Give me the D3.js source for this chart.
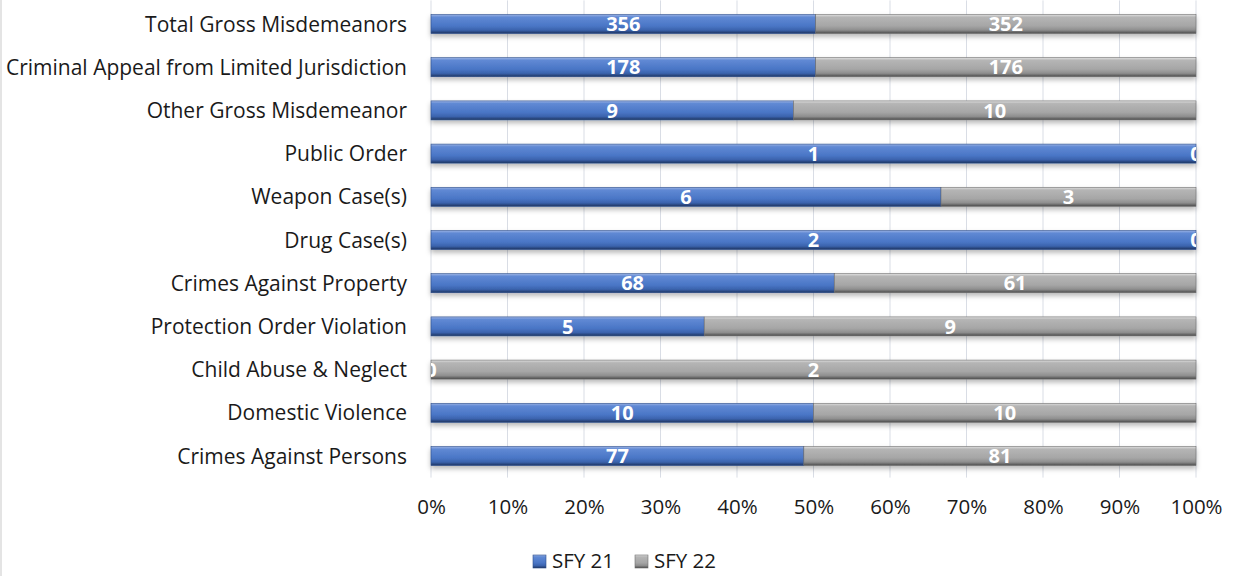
<!DOCTYPE html>
<html><head><meta charset="utf-8">
<script src="https://cdn.jsdelivr.net/npm/d3@7"></script>
<style>
html,body{margin:0;padding:0;background:#fff;}
svg{display:block;font-family:"Open Sans",sans-serif;}
</style></head>
<body>
<svg id="chart" width="1233" height="576"></svg>
<script>
const categories = ["Total Gross Misdemeanors","Criminal Appeal from Limited Jurisdiction","Other Gross Misdemeanor","Public Order","Weapon Case(s)","Drug Case(s)","Crimes Against Property","Protection Order Violation","Child Abuse & Neglect","Domestic Violence","Crimes Against Persons"];
const sfy21 = [356,178,9,1,6,2,68,5,0,10,77];
const sfy22 = [352,176,10,0,3,0,61,9,2,10,81];
const seriesNames = ["SFY 21","SFY 22"];
const tickValues = [0,0.1,0.2,0.3,0.4,0.5,0.6,0.7,0.8,0.9,1];

const svg = d3.select("#chart");
const W = 1233, H = 576;
const m = {left:431, right:1196, top:2.4, bottom:477.6};
const FONT = "'Open Sans',sans-serif";

const x = d3.scaleLinear().domain([0,1]).range([m.left, m.right]);
const y = d3.scaleBand().domain(categories).range([m.top, m.bottom]).paddingInner(0.56).paddingOuter(0.28);

const defs = svg.append("defs");
function grad(id, stops){
  const g = defs.append("linearGradient").attr("id",id).attr("x1",0).attr("y1",0).attr("x2",0).attr("y2",1);
  stops.forEach(s=>g.append("stop").attr("offset",s[0]).attr("stop-color",s[1]));
}
grad("gBlue",[["0%","#9bb3e4"],["14%","#6089d4"],["60%","#4a76c6"],["82%","#3b63ad"],["100%","#1e3460"]]);
grad("gGrey",[["0%","#e0e0e0"],["14%","#b5b5b5"],["60%","#a6a6a6"],["82%","#8e8e8e"],["100%","#4a4a4a"]]);
const f = defs.append("filter").attr("id","shadow").attr("x","-5%").attr("y","-50%").attr("width","110%").attr("height","250%");
f.append("feDropShadow").attr("dx",0).attr("dy",3).attr("stdDeviation",2.5).attr("flood-color","#000").attr("flood-opacity",0.28);
defs.append("clipPath").attr("id","plotClip").append("rect").attr("x",m.left).attr("y",0).attr("width",m.right-m.left).attr("height",H);

// left border line
svg.append("line").attr("x1",1).attr("x2",1).attr("y1",0).attr("y2",H).attr("stroke","#e4e4e4").attr("stroke-width",2);

// gridlines
svg.append("g").selectAll("line").data(tickValues).join("line")
  .attr("x1",d=>x(d)).attr("x2",d=>x(d)).attr("y1",m.top-2).attr("y2",m.bottom)
  .attr("stroke","#d9dde5").attr("stroke-width",1);

const rows = categories.map((c,i)=>{
  const t = sfy21[i]+sfy22[i];
  return {c, a:sfy21[i], b:sfy22[i], pa:sfy21[i]/t, pb:sfy22[i]/t};
});

const bars = svg.append("g");
rows.forEach(r=>{
  const g = bars.append("g").attr("filter","url(#shadow)");
  if(r.pa>0) g.append("rect").attr("x",x(0)).attr("y",y(r.c)).attr("width",x(r.pa)-x(0)).attr("height",y.bandwidth())
     .attr("fill","url(#gBlue)").attr("stroke","#2c4d8a").attr("stroke-width",0.6);
  if(r.pb>0) g.append("rect").attr("x",x(r.pa)).attr("y",y(r.c)).attr("width",x(1)-x(r.pa)).attr("height",y.bandwidth())
     .attr("fill","url(#gGrey)").attr("stroke","#6e6e6e").attr("stroke-width",0.6);
});

// data labels
const lab = svg.append("g").attr("clip-path","url(#plotClip)")
  .attr("font-size",20).attr("font-weight","bold").attr("fill","#fff").attr("text-anchor","middle");
rows.forEach(r=>{
  const yc = y(r.c)+y.bandwidth()/2;
  lab.append("text").attr("x",(x(0)+x(r.pa))/2).attr("y",yc).attr("dy","0.36em").text(r.a);
  lab.append("text").attr("x",(x(r.pa)+x(1))/2).attr("y",yc).attr("dy","0.36em").text(r.b);
});

// category labels
svg.append("g").attr("font-size",21).attr("fill","#1a1a1a").attr("text-anchor","end")
  .selectAll("text").data(categories).join("text")
  .attr("x",407).attr("y",d=>y(d)+y.bandwidth()/2).attr("dy","0.36em").text(d=>d);

// x axis labels
const xAxis = d3.axisBottom(x).tickValues(tickValues).tickFormat(d3.format(".0%")).tickSize(0).tickPadding(0);
const ax = svg.append("g").attr("transform","translate(0,499)").call(xAxis);
ax.select(".domain").remove();
ax.selectAll("text").attr("font-size",20.5).attr("fill","#1a1a1a").attr("font-family",FONT);

// legend
const leg = svg.append("g").attr("font-size",20.5).attr("fill","#1a1a1a");
const legItems = [{n:seriesNames[0],f:"url(#gBlue)",s:"#2c4d8a",x:533},{n:seriesNames[1],f:"url(#gGrey)",s:"#6e6e6e",x:635}];
legItems.forEach(d=>{
  leg.append("rect").attr("x",d.x).attr("y",555).attr("width",13).attr("height",13).attr("fill",d.f).attr("stroke",d.s).attr("stroke-width",0.6);
  leg.append("text").attr("x",d.x+19).attr("y",561).attr("dy","0.36em").text(d.n);
});
</script>
</body></html>
